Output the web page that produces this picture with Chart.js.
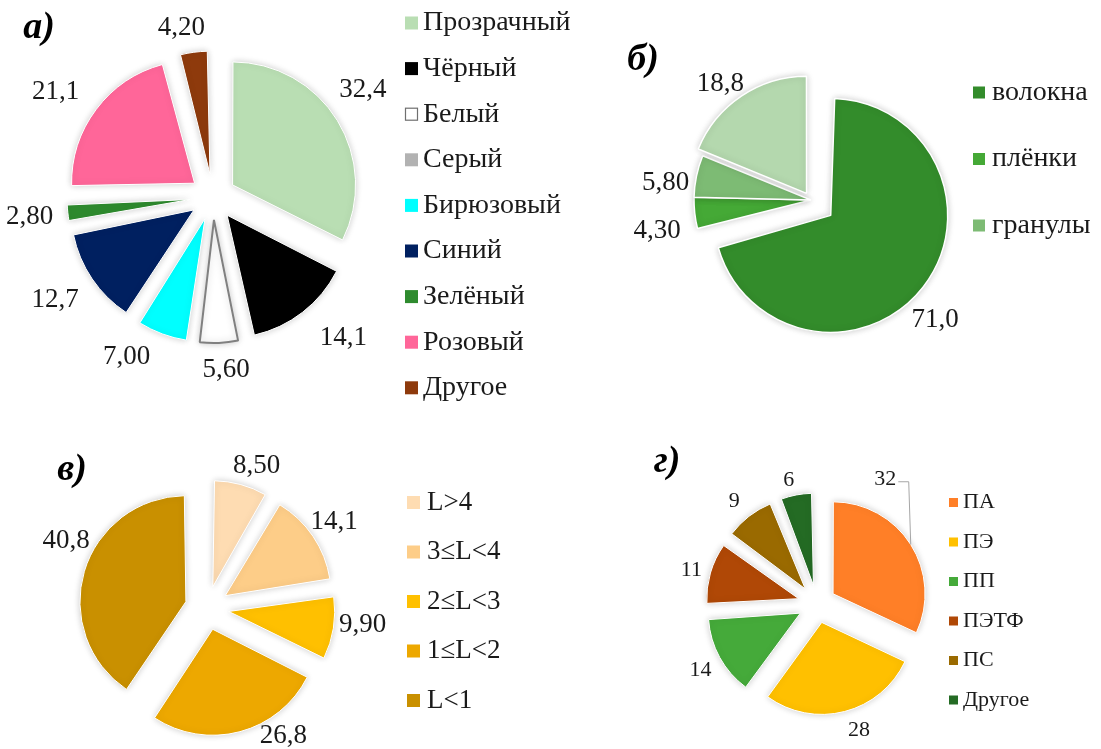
<!DOCTYPE html>
<html lang="ru">
<head>
<meta charset="utf-8">
<title>Микропластик: цвет, форма, размер и тип полимера</title>
<script src="https://cdn.jsdelivr.net/npm/chart.js@4.4.1/dist/chart.umd.min.js"></script>
<style>
  html, body { margin: 0; padding: 0; background: #fff; }
  #page { position: relative; width: 1101px; height: 749px; overflow: hidden; background: #fff; }
  #page canvas { position: absolute; left: 0; top: 0; }
</style>
</head>
<body>
<div id="page">
  <canvas id="chartColor" width="1101" height="749"></canvas>
  <canvas id="chartShape" width="1101" height="749"></canvas>
  <canvas id="chartSize" width="1101" height="749"></canvas>
  <canvas id="chartPolymer" width="1101" height="749"></canvas>
</div>
<script>
// а) цвет частиц, %
const colorLabels = ['Прозрачный', 'Чёрный', 'Белый', 'Серый', 'Бирюзовый', 'Синий', 'Зелёный', 'Розовый', 'Другое'];
const colorValues = [32.4, 14.1, 5.6, 0, 7.0, 12.7, 2.8, 21.1, 4.2];
const colorFills  = ['#b9deb3', '#000000', '#ffffff', '#b2b2b2', '#00ffff', '#002060', '#2e8b2e', '#ff6699', '#8e3a0c'];

// б) форма частиц, %
const shapeLabels = ['волокна', 'плёнки', 'гранулы', 'прочие'];
const shapeValues = [71.0, 4.3, 5.8, 18.8];
const shapeFills  = ['#338c2b', '#45a936', '#7dbb74', '#b4d8ae'];

// в) размер частиц L, мм, %
const sizeLabels = ['L>4', '3≤L<4', '2≤L<3', '1≤L<2', 'L<1'];
const sizeValues = [8.5, 14.1, 9.9, 26.8, 40.8];
const sizeFills  = ['#fedcb2', '#fdcd88', '#ffc000', '#eda800', '#c99000'];

// г) тип полимера, %
const polymerLabels = ['ПА', 'ПЭ', 'ПП', 'ПЭТФ', 'ПС', 'Другое'];
const polymerValues = [32, 28, 14, 11, 9, 6];
const polymerFills  = ['#ff7f27', '#ffc000', '#45aa3a', '#b04806', '#9a6a00', '#246b24'];

const W = 1101, H = 749;
const SERIF = '"Liberation Serif", "Times New Roman", serif';
const comma = v => v.toPrecision(3).replace('.', ',');
const whole = v => String(v);

// Layout of the four panels: centre, radius, explosion of each slice,
// label placement (extra gap and turn in degrees) and legend block.
const panels = [
  {
    id: 'chartColor', letter: 'а)', letterAt: [39, 28],
    labels: colorLabels, values: colorValues, fills: colorFills,
    borders: colorFills.map(c => c === '#ffffff' ? '#808080' : '#ffffff'),
    borderWidths: colorFills.map(c => c === '#ffffff' ? 2 : 1),
    center: [213, 197], radius: 123, explode: [23, 23, 23, 23, 23, 23, 23, 23, 23],
    valueFont: 27, fmt: comma,
    labelGap:  [14, 23, 17, 0, 17, 18, 14, 19, 13],
    labelTurn: [-4, -5, -2, 0, 8, 1, 0, -3, -3],
    legend: { x: 405, y: 23, step: 45.6, box: 13, textGap: 5, font: 28, count: 9 }
  },
  {
    id: 'chartShape', letter: 'б)', letterAt: [643, 60],
    labels: shapeLabels, values: shapeValues, fills: shapeFills,
    borders: shapeFills.map(() => '#ffffff'), borderWidths: shapeFills.map(() => 1.5),
    center: [811, 200], radius: 117, explode: [25, 0, 0, 8],
    valueFont: 27, fmt: comma,
    labelGap:  [7, 15, 5, 1],
    labelTurn: [6, -5, -5, -4],
    legend: { x: 973, y: 92.5, step: 66.5, box: 12, textGap: 7, font: 28, count: 3 }
  },
  {
    id: 'chartSize', letter: 'в)', letterAt: [72, 470],
    labels: sizeLabels, values: sizeValues, fills: sizeFills,
    borders: sizeFills.map(() => '#ffffff'), borderWidths: sizeFills.map(() => 1),
    center: [207, 608], radius: 106, explode: [22, 22, 22, 22, 22],
    valueFont: 27, fmt: comma,
    labelGap:  [6, 1, 4, 1, 3],
    labelTurn: [4, 0, -3, -16, 9],
    legend: { x: 407, y: 502.5, step: 49.5, box: 13, textGap: 7, font: 27, count: 5 }
  },
  {
    id: 'chartPolymer', letter: 'г)', letterAt: [667, 462],
    labels: polymerLabels, values: polymerValues, fills: polymerFills,
    borders: polymerFills.map(() => '#ffffff'), borderWidths: polymerFills.map(() => 1),
    center: [817, 604], radius: 92, explode: [19, 19, 19, 19, 19, 19],
    valueFont: 22, fmt: whole, leader: [0],
    labelGap:  [20, 12, 10, 7, 12, 8],
    labelTurn: [-29, -4, -1, -1, -1, -2],
    legend: { x: 949, y: 502.5, step: 39.5, box: 9, textGap: 5, font: 22, count: 6 }
  }
];

const panelOf = chart => panels.find(p => p.id === chart.canvas.id);

// Chart.js widens the radius of exploded arcs by an amount depending on their
// sweep; reset every arc to the panel radius so exploded slices stay equal.
const evenRadius = {
  id: 'evenRadius',
  beforeDatasetsDraw(chart) {
    const R = panelOf(chart).radius;
    chart.getDatasetMeta(0).data.forEach(arc => {
      const shift = (arc.options.offset || 0) / 4;
      const span = arc.endAngle - arc.startAngle;
      arc.outerRadius = R - shift * (1 - Math.sin(Math.min(Math.PI, span)));
    });
  }
};

// Soft grey halo round the slices.
const halo = {
  id: 'halo',
  beforeDatasetsDraw(chart) {
    const ctx = chart.ctx;
    ctx.save();
    ctx.shadowColor = 'rgba(0,0,0,0.2)';
    ctx.shadowBlur = 7;
  },
  afterDatasetsDraw(chart) { chart.ctx.restore(); }
};

// Value labels, legend and panel letter.
const annotate = {
  id: 'annotate',
  afterDraw(chart) {
    const p = panelOf(chart);
    const ctx = chart.ctx;
    const meta = chart.getDatasetMeta(0);
    ctx.save();
    ctx.textBaseline = 'middle';

    // values next to the slices
    ctx.font = p.valueFont + 'px ' + SERIF;
    ctx.textAlign = 'center';
    ctx.fillStyle = '#1a1a1a';
    meta.data.forEach((arc, i) => {
      const v = p.values[i];
      if (!v) return;
      const text = p.fmt(v);
      const mid = (arc.startAngle + arc.endAngle) / 2;
      const shift = (arc.options.offset || 0) / 4;
      const a = mid + p.labelTurn[i] * Math.PI / 180;
      const ux = Math.cos(a), uy = Math.sin(a);
      const w = ctx.measureText(text).width, h = p.valueFont * 0.66;
      const dist = p.radius + shift + p.labelGap[i] + Math.abs(ux) * w / 2 + Math.abs(uy) * h / 2;
      const lx = arc.x + ux * dist, ly = arc.y + uy * dist;
      ctx.fillText(text, lx, ly);
      if (p.leader && p.leader.includes(i)) {
        const ex = arc.x + Math.cos(mid) * (shift + p.radius);
        const ey = arc.y + Math.sin(mid) * (shift + p.radius);
        ctx.save();
        ctx.strokeStyle = '#a6a6a6';
        ctx.lineWidth = 1;
        ctx.beginPath();
        ctx.moveTo(lx + w / 2 + 2, ly + 3);
        ctx.lineTo(ex - 2, ly + 3);
        ctx.lineTo(ex, ey);
        ctx.stroke();
        ctx.restore();
      }
    });

    // legend
    const L = p.legend;
    ctx.font = L.font + 'px ' + SERIF;
    ctx.textAlign = 'left';
    for (let i = 0; i < L.count; i++) {
      const y = L.y + i * L.step;
      ctx.fillStyle = p.fills[i];
      ctx.fillRect(L.x, y - L.box / 2, L.box, L.box);
      if (p.fills[i] === '#ffffff') {
        ctx.strokeStyle = '#6f6f6f';
        ctx.lineWidth = 1.2;
        ctx.strokeRect(L.x + 0.5, y - L.box / 2 + 0.5, L.box - 1, L.box - 1);
      }
      ctx.fillStyle = '#1a1a1a';
      ctx.fillText(p.labels[i], L.x + L.box + L.textGap, y);
    }

    // panel letter
    ctx.font = 'bold italic 38px ' + SERIF;
    ctx.textAlign = 'center';
    ctx.fillStyle = '#000';
    ctx.fillText(p.letter, p.letterAt[0], p.letterAt[1]);
    ctx.restore();
  }
};

panels.forEach(p => {
  const [cx, cy] = p.center;
  const s = Math.min(cx, W - cx, cy, H - cy) - 2;
  new Chart(document.getElementById(p.id), {
    type: 'pie',
    data: {
      labels: p.labels,
      datasets: [{
        data: p.values,
        backgroundColor: p.fills,
        borderColor: p.borders,
        borderWidth: p.borderWidths,
        offset: p.explode.map(o => o * 4),
        radius: p.radius
      }]
    },
    options: {
      responsive: false,
      animation: false,
      devicePixelRatio: 1,
      events: [],
      radius: p.radius,
      layout: { padding: { left: cx - s, right: W - cx - s, top: cy - s, bottom: H - cy - s } },
      plugins: { legend: { display: false }, tooltip: { enabled: false } }
    },
    plugins: [evenRadius, halo, annotate]
  });
});
</script>
</body>
</html>
